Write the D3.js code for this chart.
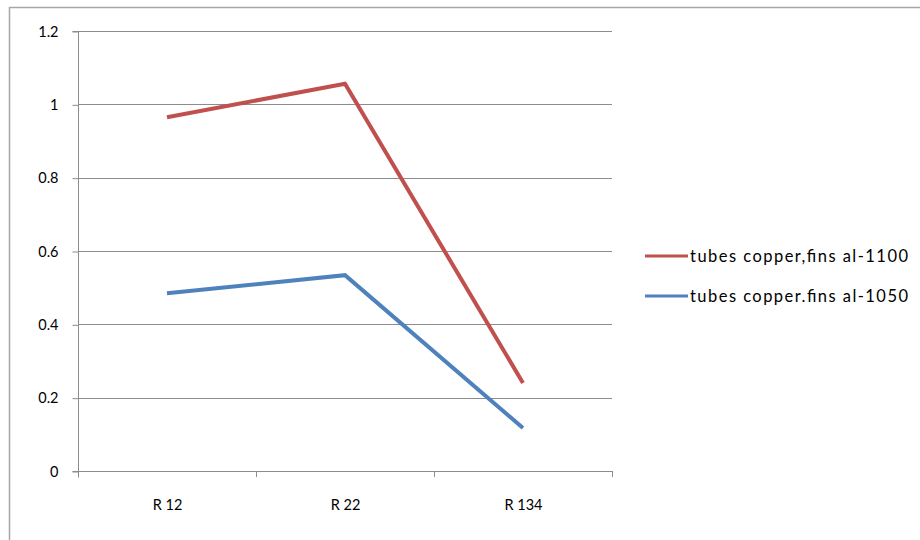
<!DOCTYPE html>
<html><head><meta charset="utf-8">
<script src="https://cdn.jsdelivr.net/npm/d3@7"></script>
<style>body{margin:0;background:#fff}svg{display:block}</style>
</head><body><svg id="c" width="920" height="540"></svg>
<script>
const categories = ["R 12", "R 22", "R 134"];
const seriesNames = ["tubes copper,fins al-1100", "tubes copper.fins al-1050"];
const series1100 = [0.965, 1.056, 0.24];
const series1050 = [0.485, 0.534, 0.117];
const yTicks = [0, 0.2, 0.4, 0.6, 0.8, 1, 1.2];
const colors = ["#C0504D", "#4F81BD"];

const svg = d3.select("#c");
const font = "Lato, 'Open Sans', sans-serif";
svg.append("rect").attr("x",9.5).attr("y",7.5).attr("width",930).attr("height",560)
  .attr("fill","#fff").attr("stroke","#a6a6a6").attr("stroke-width",1.5);

const L=78, R=612, T=31, B=471;
const x = d3.scaleBand().domain(categories).range([L,R]);
const y = d3.scaleLinear().domain([0,1.2]).range([B,T]);

// gridlines
svg.append("g").selectAll("line").data(yTicks.filter(d=>d>0)).join("line")
  .attr("x1",L).attr("x2",R).attr("y1",d=>Math.round(y(d))+0.5).attr("y2",d=>Math.round(y(d))+0.5)
  .attr("stroke","#8c8c8c").attr("stroke-width",1);

const ya = svg.append("g").attr("transform",`translate(${L+0.5},0.5)`)
  .call(d3.axisLeft(y).tickValues(yTicks).tickSize(6).tickPadding(14).tickFormat(d=>String(d)));
const xa = svg.append("g").attr("transform",`translate(0.5,${B+0.5})`)
  .call(d3.axisBottom(x).tickSize(0).tickPadding(28));
// category boundary ticks
svg.append("g").selectAll("line").data([L,...categories.map(c=>x(c)+x.bandwidth())]).join("line")
  .attr("x1",d=>Math.round(d)+0.5).attr("x2",d=>Math.round(d)+0.5).attr("y1",B).attr("y2",B+6)
  .attr("stroke","#8c8c8c");
[ya,xa].forEach(a=>{
  a.selectAll(".domain").attr("stroke","#8c8c8c");
  a.selectAll(".tick line").attr("stroke","#8c8c8c");
  a.selectAll("text").attr("font-family",font).attr("font-size",14.5).attr("fill","#000");
});
ya.select(".domain").attr("d",`M-6,${T}H0V${B+6}`);
xa.select(".domain").attr("d",`M${L-6},0H${R}`);

const line = d3.line().x((d,i)=>x(categories[i])+x.bandwidth()/2).y(d=>y(d));
[series1100, series1050].forEach((s,i)=>{
  svg.append("path").datum(s).attr("d",line).attr("fill","none")
    .attr("stroke",colors[i]).attr("stroke-width",4).attr("stroke-linejoin","miter");
});

// legend
const lg = svg.append("g");
seriesNames.forEach((n,i)=>{
  const yy = 256 + i*40;
  lg.append("line").attr("x1",645).attr("x2",688).attr("y1",yy).attr("y2",yy)
    .attr("stroke",colors[i]).attr("stroke-width",3);
  lg.append("text").attr("x",690).attr("y",yy+5.5).text(n)
    .attr("font-family",font).attr("font-size",16.5).attr("fill","#000")
    .attr("textLength",218).attr("lengthAdjust","spacing");
});
</script></body></html>
